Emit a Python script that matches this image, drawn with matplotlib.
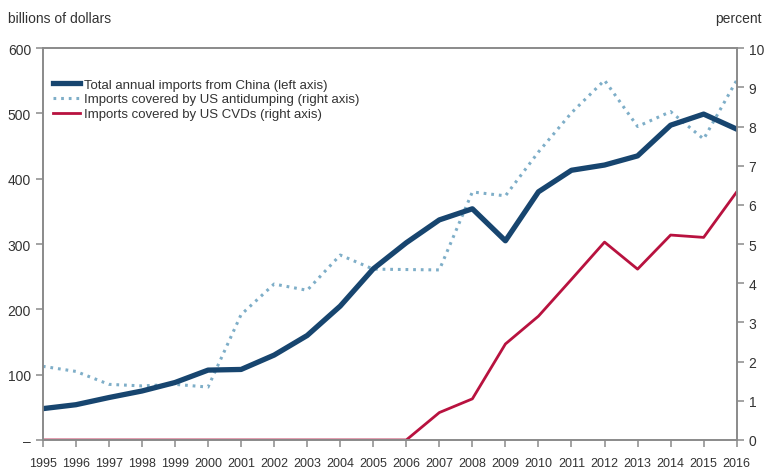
import matplotlib.pyplot as plt

years = list(range(1995, 2017))

# billions of dollars (left axis)
total_imports = [48, 54, 65, 75, 88, 107, 108, 130, 160, 205, 262, 302,
                 337, 354, 305, 380, 413, 421, 435, 482, 499, 476]

# percent (right axis)
antidumping = [1.88, 1.75, 1.42, 1.38, 1.42, 1.35, 3.2, 3.98, 3.82, 4.72, 4.36, 4.35,
               4.34, 6.33, 6.23, 7.35, 8.35, 9.18, 8.0, 8.38, 7.68, 9.18]
cvds = [0, 0, 0, 0, 0, 0, 0, 0, 0, 0, 0, 0,
        0.7, 1.05, 2.45, 3.16, 4.1, 5.05, 4.36, 5.23, 5.17, 6.33]

left_ticks = [0, 100, 200, 300, 400, 500, 600]
left_labels = ["\u2013", "100", "200", "300", "400", "500", "600"]
right_ticks = list(range(0, 11))

plt.rcParams["font.family"] = ["Liberation Sans", "DejaVu Sans"]

navy = "#17456f"
light_blue = "#7eaec8"
crimson = "#b8123f"
grey = "#8a8a8a"
text_col = "#333333"

fig = plt.figure(figsize=(7.65, 4.77), dpi=100)
ax = fig.add_axes([0.056, 0.0755, 0.907, 0.8215])
ax2 = ax.twinx()

#right axis lines drawn first so the navy line sits on top
l2, = ax2.plot(years, antidumping, color=light_blue, lw=2.2, linestyle=(0, (0.9, 1.6)),
               label="Imports covered by US antidumping (right axis)")
l3, = ax2.plot(years, cvds, color=crimson, lw=2.0,
               label="Imports covered by US CVDs (right axis)")
l1, = ax.plot(years, total_imports, color=navy, lw=3.8,
              label="Total annual imports from China (left axis)")
ax.set_zorder(ax2.get_zorder() + 1)
ax.patch.set_visible(False)

ax.set_xlim(1995, 2016)
ax.set_ylim(0, 600)
ax2.set_ylim(0, 10)

ax.set_xticks(years)
ax.set_xticklabels([str(y) for y in years])
ax.set_yticks(left_ticks)
ax.set_yticklabels(left_labels)
ax2.set_yticks(right_ticks)

for a in (ax, ax2):
    for s in a.spines.values():
        s.set_color(grey)
        s.set_linewidth(1.2)
    a.tick_params(colors=grey, labelcolor=text_col, labelsize=10, length=5, width=1.1)
ax.tick_params(axis="x", labelsize=9, pad=7)

fig.text(0.01, 0.96, "billions of dollars", fontsize=10, color=text_col, ha="left", va="center")
fig.text(0.995, 0.96, "percent", fontsize=10, color=text_col, ha="right", va="center")

ax.legend(handles=[l1, l2, l3], loc="upper left", bbox_to_anchor=(0.0, 0.95),
          frameon=False, fontsize=9.5, handlelength=2.0, handletextpad=0.3,
          labelspacing=0.2, borderaxespad=0.4, labelcolor=text_col)

fig.savefig("out.png", dpi=100)
